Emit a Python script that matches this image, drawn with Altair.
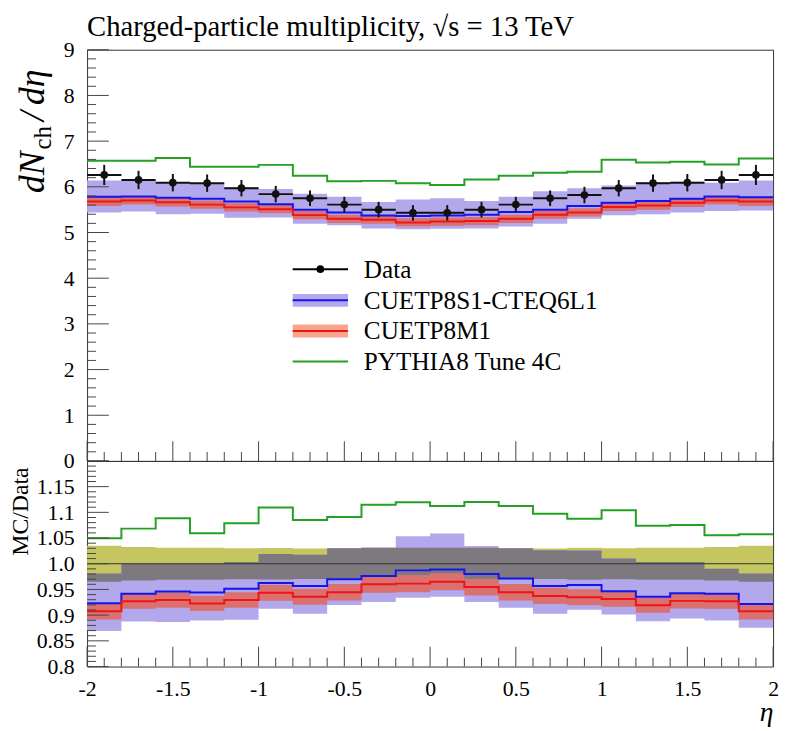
import altair as alt
import pandas as pd

# ---------------- data ----------------
eta_edges = [-2.0, -1.8, -1.6, -1.4, -1.2, -1.0, -0.8, -0.6, -0.4, -0.2, 0.0,
             0.2, 0.4, 0.6, 0.8, 1.0, 1.2, 1.4, 1.6, 1.8, 2.0]
eta_centres = [-1.9, -1.7, -1.5, -1.3, -1.1, -0.9, -0.7, -0.5, -0.3, -0.1,
               0.1, 0.3, 0.5, 0.7, 0.9, 1.1, 1.3, 1.5, 1.7, 1.9]

data_val = [6.26, 6.15, 6.09, 6.08, 5.97, 5.84, 5.75, 5.61, 5.50, 5.43,
            5.43, 5.50, 5.61, 5.75, 5.82, 5.97, 6.08, 6.09, 6.15, 6.26]
data_err = [0.22, 0.20, 0.19, 0.19, 0.18, 0.18, 0.17, 0.17, 0.17, 0.17,
            0.17, 0.17, 0.17, 0.17, 0.18, 0.18, 0.19, 0.19, 0.20, 0.22]

s1_val = [5.78, 5.79, 5.76, 5.74, 5.68, 5.62, 5.50, 5.44, 5.37, 5.36,
          5.37, 5.39, 5.45, 5.50, 5.58, 5.65, 5.69, 5.74, 5.79, 5.77]
s1_lo = [5.44, 5.46, 5.40, 5.41, 5.32, 5.33, 5.19, 5.16, 5.09, 5.07,
         5.08, 5.09, 5.13, 5.19, 5.30, 5.38, 5.40, 5.44, 5.47, 5.48]
s1_hi = [6.14, 6.15, 6.09, 6.08, 5.99, 5.95, 5.85, 5.78, 5.67, 5.72,
         5.75, 5.69, 5.78, 5.90, 5.97, 6.03, 6.10, 6.11, 6.09, 6.14]

m1_val = [5.68, 5.70, 5.66, 5.61, 5.55, 5.51, 5.38, 5.30, 5.28, 5.22,
          5.24, 5.25, 5.30, 5.39, 5.44, 5.56, 5.59, 5.65, 5.70, 5.68]
m1_err = [0.10, 0.09, 0.09, 0.09, 0.09, 0.09, 0.09, 0.09, 0.09, 0.09,
          0.09, 0.09, 0.09, 0.09, 0.09, 0.09, 0.09, 0.09, 0.09, 0.10]

t4c_val = [6.57, 6.57, 6.63, 6.44, 6.44, 6.48, 6.24, 6.12, 6.13, 6.08,
           6.04, 6.16, 6.24, 6.31, 6.33, 6.59, 6.53, 6.55, 6.49, 6.62]

x_labels = [-2, -1.5, -1, -0.5, 0, 0.5, 1, 1.5, 2]
y_top_labels = [0, 1, 2, 3, 4, 5, 6, 7, 8, 9]
y_ratio_labels = [0.8, 0.85, 0.9, 0.95, 1.0, 1.05, 1.1, 1.15]

legend_labels = ["Data", "CUETP8S1-CTEQ6L1", "CUETP8M1", "PYTHIA8 Tune 4C"]
title_text = "Charged-particle multiplicity, \u221As = 13 TeV"

# ---------------- style ----------------
FONT = "Liberation Serif"
W, H1, H2 = 694, 416, 208
PURPLE = "#b4a8ec"
YELLOW = "#c6c660"
GRAY = "#7e787f"
REDBAND = "#da7070"
SALMON = "#f7a58c"
BLUE = "#1414ee"
RED = "#f01414"
GREEN = "#24a024"
TICK = "#444444"


def ext(a):
    return list(a) + [a[-1]]


m1_lo = [v - e for v, e in zip(m1_val, m1_err)]
m1_hi = [v + e for v, e in zip(m1_val, m1_err)]

top_df = pd.DataFrame({
    "x": eta_edges,
    "s1": ext(s1_val), "s1_lo": ext(s1_lo), "s1_hi": ext(s1_hi),
    "m1": ext(m1_val), "m1_lo": ext(m1_lo), "m1_hi": ext(m1_hi),
    "t4c": ext(t4c_val),
})

pts_df = pd.DataFrame({
    "x": eta_centres, "xlo": eta_edges[:-1], "xhi": eta_edges[1:],
    "y": data_val,
    "ylo": [v - e for v, e in zip(data_val, data_err)],
    "yhi": [v + e for v, e in zip(data_val, data_err)],
})

# ratio MC / Data
yel_lo = [1 - e / d for e, d in zip(data_err, data_val)]
yel_hi = [1 + e / d for e, d in zip(data_err, data_val)]
s1r_lo = [a / d for a, d in zip(s1_lo, data_val)]
s1r_hi = [a / d for a, d in zip(s1_hi, data_val)]
g_lo = [max(a, b) for a, b in zip(yel_lo, s1r_lo)]
g_hi = [max(min(a, b), l) for a, b, l in zip(yel_hi, s1r_hi, g_lo)]
ratio_df = pd.DataFrame({
    "x": eta_edges,
    "yel_lo": ext(yel_lo), "yel_hi": ext(yel_hi),
    "s1_lo": ext(s1r_lo), "s1_hi": ext(s1r_hi),
    "g_lo": ext(g_lo), "g_hi": ext(g_hi),
    "m1_lo": ext([a / d for a, d in zip(m1_lo, data_val)]),
    "m1_hi": ext([a / d for a, d in zip(m1_hi, data_val)]),
    "s1": ext([a / d for a, d in zip(s1_val, data_val)]),
    "m1": ext([a / d for a, d in zip(m1_val, data_val)]),
    "t4c": ext([a / d for a, d in zip(t4c_val, data_val)]),
})

# tick positions (inward ticks)
top_major = pd.DataFrame({"v": [float(i) for i in range(10)]})
top_minor = pd.DataFrame({"v": [round(i * 0.2, 2) for i in range(46) if i % 5]})
rat_major = pd.DataFrame({"v": [round(0.8 + 0.05 * i, 3) for i in range(9)]})
rat_minor = pd.DataFrame({"v": [round(0.8 + 0.01 * i, 3) for i in range(41) if i % 5]})
x_major = pd.DataFrame({"v": [round(-2 + 0.5 * i, 2) for i in range(9)]})
x_minor = pd.DataFrame({"v": [round(-2 + 0.1 * i, 2) for i in range(41) if i % 5]})

# ---------------- scales / axes ----------------
xscale = alt.Scale(domain=[-2, 2], nice=False, zero=False)
y1scale = alt.Scale(domain=[0, 9], nice=False, zero=False)
y2scale = alt.Scale(domain=[0.8, 1.2], nice=False, zero=False)

y1axis = alt.Axis(values=y_top_labels, ticks=False, domain=False, grid=False,
                  labelFont=FONT, labelFontSize=22, labelPadding=13,
                  labelColor="black", labelBaseline="middle", labelFlush=False,
                  title=None)
y2axis = alt.Axis(values=y_ratio_labels, ticks=False, domain=False, grid=False,
                  labelFont=FONT, labelFontSize=22, labelPadding=13,
                  labelColor="black", labelBaseline="middle", labelFlush=False,
                  labelExpr="datum.value == 1 ? '1.0' : '' + datum.value",
                  title="MC/Data", titleFont=FONT, titleFontSize=24,
                  titleFontWeight="normal", titleColor="black",
                  titleAnchor="end", titlePadding=4, titleY=6)
xaxis = alt.Axis(values=x_labels, ticks=False, domain=False, grid=False,
                 labelFont=FONT, labelFontSize=22, labelPadding=12,
                 labelColor="black", labelFlush=False,
                 labelExpr="'' + datum.value",
                 title="\u03b7", titleFont=FONT, titleFontSize=28,
                 titleFontStyle="italic", titleFontWeight="normal",
                 titleColor="black", titleAnchor="end", titlePadding=0)


def X1(f):
    return alt.X(f"{f}:Q", scale=xscale, axis=None)


def Y1(f):
    return alt.Y(f"{f}:Q", scale=y1scale, axis=y1axis)


def X2(f):
    return alt.X(f"{f}:Q", scale=xscale, axis=xaxis)


def Y2(f):
    return alt.Y(f"{f}:Q", scale=y2scale, axis=y2axis)


def yticks(df, Yf, length):
    return alt.Chart(df).mark_tick(color=TICK, thickness=1, size=length,
                                   opacity=1, orient="horizontal").encode(
        y=Yf("v"), x=alt.value(length / 2))


def xticks(df, Xf, h, length):
    return alt.Chart(df).mark_tick(color=TICK, thickness=1, size=length,
                                   opacity=1, orient="vertical").encode(
        x=Xf("v"), y=alt.value(h - length / 2))


# ---------------- top panel ----------------
tb = alt.Chart(top_df)
band_s1 = tb.mark_area(interpolate="step-after", color=PURPLE, opacity=1).encode(
    x=X1("x"), y=Y1("s1_lo"), y2=alt.Y2("s1_hi"))
band_m1 = tb.mark_area(interpolate="step-after", color=REDBAND, opacity=1).encode(
    x=X1("x"), y=Y1("m1_lo"), y2=alt.Y2("m1_hi"))
line_s1 = tb.mark_line(interpolate="step-after", color=BLUE, strokeWidth=2).encode(
    x=X1("x"), y=Y1("s1"))
line_m1 = tb.mark_line(interpolate="step-after", color=RED, strokeWidth=2).encode(
    x=X1("x"), y=Y1("m1"))
line_t4c = tb.mark_line(interpolate="step-after", color=GREEN, strokeWidth=2).encode(
    x=X1("x"), y=Y1("t4c"))

pb = alt.Chart(pts_df)
err_h = pb.mark_rule(color="#111111", strokeWidth=2).encode(
    x=X1("xlo"), x2=alt.X2("xhi"), y=Y1("y"))
err_v = pb.mark_rule(color="#111111", strokeWidth=2).encode(
    x=X1("x"), y=Y1("ylo"), y2=alt.Y2("yhi"))
dots = pb.mark_circle(color="#111111", size=60, opacity=1).encode(
    x=X1("x"), y=Y1("y"))

one = pd.DataFrame({"k": [0]})


def text_mark(s, x, y, size, style="normal", angle=0, align="left",
              baseline="alphabetic"):
    return alt.Chart(pd.DataFrame({"t": [s]})).mark_text(
        font=FONT, fontSize=size, fontStyle=style, angle=angle, align=align,
        baseline=baseline, color="black").encode(
        text="t:N", x=alt.value(x), y=alt.value(y))


LX0, LX1, LTX = 208, 264, 280
rows = [222, 253.5, 284.5, 315.5]
leg = [
    alt.Chart(one).mark_rule(color="black", strokeWidth=2).encode(
        x=alt.value(LX0), x2=alt.value(LX1), y=alt.value(rows[0])),
    alt.Chart(one).mark_circle(color="black", size=60, opacity=1).encode(
        x=alt.value((LX0 + LX1) / 2), y=alt.value(rows[0])),
    alt.Chart(one).mark_rect(color=PURPLE).encode(
        x=alt.value(LX0), x2=alt.value(LX1), y=alt.value(rows[1] - 6.5),
        y2=alt.value(rows[1] + 6.5)),
    alt.Chart(one).mark_rule(color=BLUE, strokeWidth=2).encode(
        x=alt.value(LX0), x2=alt.value(LX1), y=alt.value(rows[1])),
    alt.Chart(one).mark_rect(color=SALMON).encode(
        x=alt.value(LX0), x2=alt.value(LX1), y=alt.value(rows[2] - 6.5),
        y2=alt.value(rows[2] + 6.5)),
    alt.Chart(one).mark_rule(color=RED, strokeWidth=2).encode(
        x=alt.value(LX0), x2=alt.value(LX1), y=alt.value(rows[2])),
    alt.Chart(one).mark_rule(color=GREEN, strokeWidth=2).encode(
        x=alt.value(LX0), x2=alt.value(LX1), y=alt.value(rows[3])),
]
for lab, ry in zip(legend_labels, rows):
    leg.append(text_mark(lab, LTX, ry + 8.5, 25.5))

ttl = text_mark(title_text, 0, -14, 29)
ylab = [
    text_mark("dN", -44, 145, 36, style="italic", angle=270),
    text_mark("ch", -37, 101, 25, angle=270),
    text_mark("/", -44, 72, 36, style="italic", angle=270),
    text_mark("d\u03b7", -44, 56, 36, style="italic", angle=270),
]

top = alt.layer(
    band_s1, band_m1, line_s1, line_m1, line_t4c,
    err_h, err_v, dots,
    yticks(top_major, Y1, 22), yticks(top_minor, Y1, 9),
    xticks(x_major, X1, H1, 20), xticks(x_minor, X1, H1, 9),
    *leg, ttl, *ylab,
).properties(width=W, height=H1)

# ---------------- ratio panel ----------------
rb = alt.Chart(ratio_df)
r_yel = rb.mark_area(interpolate="step-after", color=YELLOW, opacity=1).encode(
    x=X2("x"), y=Y2("yel_lo"), y2=alt.Y2("yel_hi"))
r_s1b = rb.mark_area(interpolate="step-after", color=PURPLE, opacity=1).encode(
    x=X2("x"), y=Y2("s1_lo"), y2=alt.Y2("s1_hi"))
r_gray = rb.mark_area(interpolate="step-after", color=GRAY, opacity=1).encode(
    x=X2("x"), y=Y2("g_lo"), y2=alt.Y2("g_hi"))
r_m1b = rb.mark_area(interpolate="step-after", color=REDBAND, opacity=1).encode(
    x=X2("x"), y=Y2("m1_lo"), y2=alt.Y2("m1_hi"))
unity = alt.Chart(pd.DataFrame({"x": [-2.0], "x2": [2.0], "y": [1.0]})).mark_rule(
    color="#333333", strokeWidth=1).encode(x=X2("x"), x2=alt.X2("x2"), y=Y2("y"))
r_s1 = rb.mark_line(interpolate="step-after", color=BLUE, strokeWidth=2).encode(
    x=X2("x"), y=Y2("s1"))
r_m1 = rb.mark_line(interpolate="step-after", color=RED, strokeWidth=2).encode(
    x=X2("x"), y=Y2("m1"))
r_t4c = rb.mark_line(interpolate="step-after", color=GREEN, strokeWidth=2).encode(
    x=X2("x"), y=Y2("t4c"))

bottom = alt.layer(
    r_yel, r_s1b, r_gray, r_m1b, unity, r_s1, r_m1, r_t4c,
    yticks(rat_major, Y2, 22), yticks(rat_minor, Y2, 9),
    xticks(x_major, X2, H2, 20), xticks(x_minor, X2, H2, 9),
).properties(width=W, height=H2)

chart = alt.vconcat(top, bottom, spacing=0, bounds="flush").properties(
    padding={"left": 0, "top": 0, "right": 0, "bottom": 0}
).configure_view(stroke="#333333", strokeWidth=1)

chart.save("out.html", embed_options={"renderer": "svg", "actions": False})
